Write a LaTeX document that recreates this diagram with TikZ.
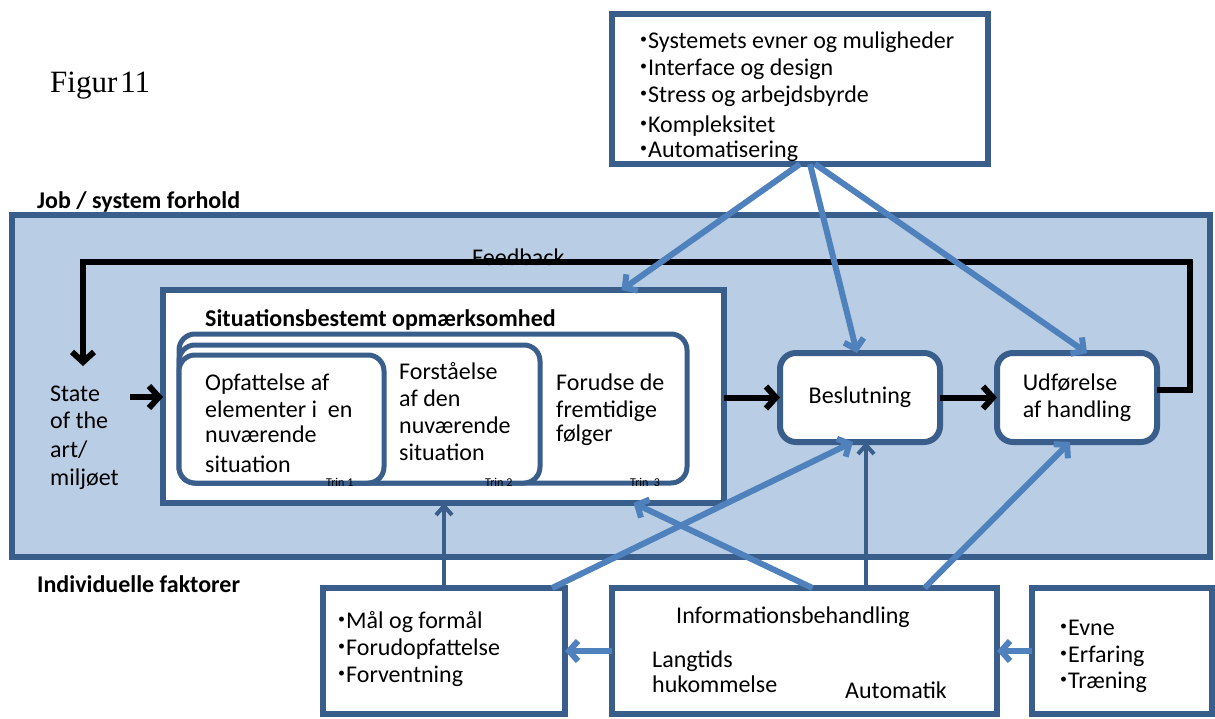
\documentclass[tikz,border=0pt]{standalone}
\usepackage{fontspec}
\setmainfont{Carlito}
\newfontfamily\figfont{Liberation Serif}
\usetikzlibrary{arrows.meta}
\definecolor{frame}{RGB}{58,94,140}
\definecolor{panel}{RGB}{185,205,228}
\definecolor{flow}{RGB}{79,129,189}
% small raised list bullet
\newcommand\listdot{{\fontsize{14}{14}\selectfont\raisebox{5pt}{•}}\kern1pt}
\begin{document}
\begin{tikzpicture}[x=1pt,y=-1pt,
  box/.style={draw=frame,line width=6pt,fill=white,outer sep=0pt,inner sep=0pt,anchor=north west},
  rbox/.style={box,rounded corners=16pt},
  txt/.style={font=\fontsize{24}{27}\selectfont,align=left,inner sep=0pt,anchor=base west},
  hdr/.style={font=\fontsize{24}{28}\selectfont\bfseries,inner sep=0pt,anchor=base west},
  trin/.style={font=\fontsize{12}{14}\selectfont,inner sep=0pt,anchor=base west},
  blk/.style={line width=6pt,black,-{Straight Barb[length=10pt,width=22pt]}},
  lblue/.style={line width=6pt,flow,-{Straight Barb[length=9pt,width=20pt]}},
  dblue/.style={line width=4pt,frame,-{Straight Barb[length=9pt,width=16pt]}},
]
\useasboundingbox (0,0) rectangle (1215,718);
% multi-line text nodes below are placed by the baseline of their last line

% title
\node[font=\figfont\fontsize{31}{34}\selectfont,inner sep=0pt,anchor=base west] (fig) at (50,92) {Figur\kern3pt 11};

% system factors box
\node[box,minimum width=376pt,minimum height=150pt] (top) at (612,14) {};
\node[txt] (toptxt) at (640,157) {\listdot Systemets evner og muligheder\\\listdot Interface og design\\\listdot Stress og arbejdsbyrde\\[3pt]\listdot Kompleksitet\\[-2pt]\listdot Automatisering};

% job / system panel
\node[hdr] (jobhdr) at (37,208) {Job / system forhold};
\node[box,fill=panel,minimum width=1198pt,minimum height=342pt] (panel) at (12,215) {};

% feedback label (the loop line runs over it)
\node[txt] (fbtxt) at (472,265) {Feedback};

% situation awareness block
\node[box,minimum width=561pt,minimum height=213pt] (sa) at (163,290) {};
\node[hdr] (satitle) at (205,326) {Situationsbestemt opmærksomhed};
\node[rbox,line width=5pt,minimum width=508pt,minimum height=149pt] (t3) at (179,334) {};
\node[rbox,line width=5pt,minimum width=361pt,minimum height=138pt] (t2) at (179,345) {};
\node[rbox,line width=5pt,minimum width=205pt,minimum height=128pt] (t1) at (179,355) {};
\node[txt] (t1txt) at (205,472) {Opfattelse af\\elementer i\ \ en\\[-2pt]nuværende\\[3pt]situation};
\node[txt] (t2txt) at (399,460) {Forståelse\\af den\\nuværende\\situation};
\node[txt] (t3txt) at (556,441) {Forudse de\\fremtidige\\[-3pt]følger};
\node[trin] (trin1) at (326,486) {Trin 1};
\node[trin] (trin2) at (485,486) {Trin 2};
\node[trin] (trin3) at (630,486) {Trin\ \ 3};

% environment
\node[txt] (state) at (50,485) {State\\of the\\[2pt]art/\\[1pt]miljøet};
\coordinate (stateout) at (130,397);
\draw[blk] (stateout) -- (stateout -| sa.west);

% decision and action
\node[rbox,minimum width=160pt,minimum height=89pt,font=\fontsize{24}{27}\selectfont,anchor=north west] (besl) at (780,353) {Beslutning};
\node[rbox,minimum width=160pt,minimum height=89pt,font=\fontsize{24}{27}\selectfont,align=left,anchor=north west] (udf) at (997,353) {Udførelse\\af handling};

\draw[blk] (sa.east |- besl.west) -- (besl.west);
\draw[blk] (besl.east) -- (udf.west);

% feedback loop
\coordinate (fbr) at (1190,262);
\coordinate (fbl) at (83,262);
\coordinate (fbend) at (83,366);
\draw[blk] ([yshift=8pt]udf.east) -| (fbr) -- (fbl) -- (fbend);

% influences of the system factors
\draw[lblue] (top.south) -- ([xshift=178pt]sa.north);
\draw[lblue] ([xshift=10pt]top.south) -- ([xshift=-3pt]besl.north);
\draw[lblue] ([xshift=15pt]top.south) -- ([xshift=10pt]udf.north);

% individual factors
\node[hdr] (indhdr) at (37,592) {Individuelle faktorer};
\node[box,minimum width=242pt,minimum height=126pt] (maal) at (323,588) {};
\node[txt] (maaltxt) at (338,682) {\listdot Mål og formål\\\listdot Forudopfattelse\\\listdot Forventning};
\node[box,minimum width=385pt,minimum height=126pt] (info) at (612,588) {};
\node[txt] (infotxt) at (676,623) {Informationsbehandling};
\node[txt] (langtxt) at (652,692) {Langtids\\[-2pt]hukommelse};
\node[txt] (autotxt) at (845,698) {Automatik};
\node[box,minimum width=180pt,minimum height=126pt] (evne) at (1032,588) {};
\node[txt] (evnetxt) at (1060,688) {\listdot Evne\\\listdot Erfaring\\[-1pt]\listdot Træning};

% influences of the individual factors
\draw[dblue] (maal.north) -- (maal.north |- sa.south);
\draw[lblue] ([xshift=108pt]maal.north) -- ([xshift=-7pt]besl.south);
\draw[lblue] ([xshift=8pt]info.north) -- ([xshift=190pt]sa.south);
\draw[dblue] ([xshift=6pt]besl.south |- info.north) -- ([xshift=6pt]besl.south);
\draw[lblue] ([xshift=120pt]info.north) -- ([xshift=-7pt]udf.south);
\draw[lblue] (info.west) -- (maal.east);
\draw[lblue] (evne.west) -- (info.east);
\end{tikzpicture}
\end{document}
